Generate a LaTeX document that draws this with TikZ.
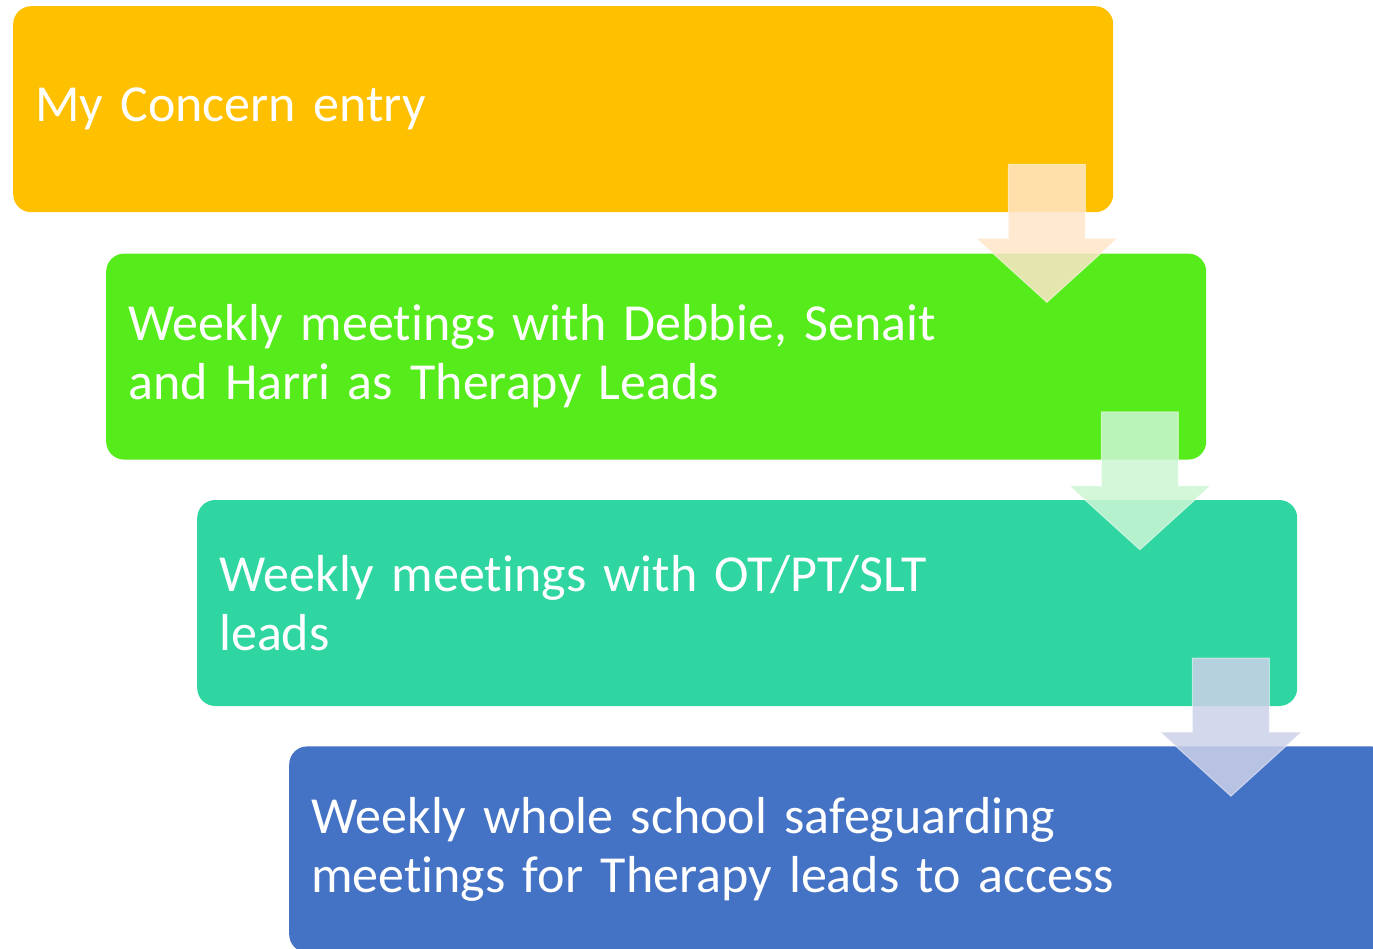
\documentclass[tikz,border=0pt]{standalone}
\usepackage{fontspec}
\setmainfont[Ligatures=NoCommon,WordSpace=0.85]{Carlito}
\usetikzlibrary{positioning,calc}

\definecolor{concernorange}{HTML}{FFC000}
\definecolor{leadsgreen}{HTML}{56EB1A}
\definecolor{otteal}{HTML}{2FD6A1}
\definecolor{schoolblue}{HTML}{4472C4}
\definecolor{arrowpeach}{HTML}{FFE5C8}
\definecolor{arrowmint}{HTML}{CDF6D4}
\definecolor{arrowlilac}{HTML}{CDD1E9}

\begin{document}
\begin{tikzpicture}[x=1pt,y=-1pt,
  stepbox/.style={rounded corners=18pt, minimum width=1100pt, minimum height=206pt,
    anchor=north west, align=left, text=white, inner xsep=22pt, text width=1056pt,
    font=\fontsize{52}{59}\selectfont},
  steparrow/.style={fill opacity=0.85, draw=white, draw opacity=0.5, line width=1pt}]

\useasboundingbox (0,0) rectangle (1373,949);
\clip (0,0) rectangle (1373,949);

\path (13,6) node[stepbox, fill=concernorange] (concern) {My Concern entry};
\node[stepbox, fill=leadsgreen, below right=41pt and 93pt of concern.south west] (leads)
  {Weekly meetings with Debbie, Senait\\and Harri as Therapy Leads};
\node[stepbox, fill=otteal, below right=40pt and 91pt of leads.south west] (otleads)
  {Weekly meetings with OT/PT/SLT\\leads};
\node[stepbox, fill=schoolblue, below right=40pt and 92pt of otleads.south west] (school)
  {Weekly whole school safeguarding\\meetings for Therapy leads to access};

% block arrows between the steps
\foreach \upper/\col in {concern/arrowpeach, leads/arrowmint, otleads/arrowlilac}
  \draw[steparrow, fill=\col] ($(\upper.south east)+(-105,-48)$) -- ++(77,0) -- ++(0,74)
    -- ++(32,0) -- ++(-70.5,64) -- ++(-70.5,-64) -- ++(32,0) -- cycle;

\end{tikzpicture}
\end{document}
